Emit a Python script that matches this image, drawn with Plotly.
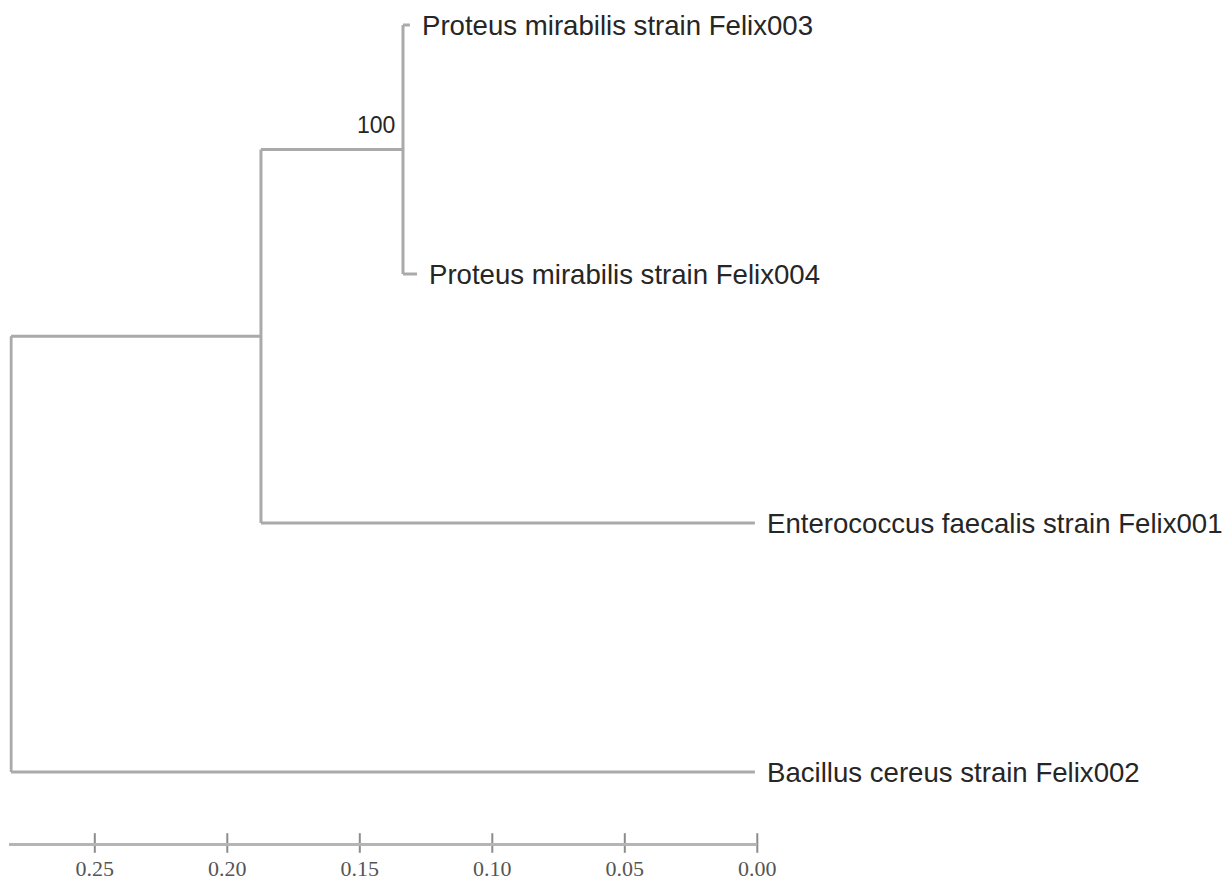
import plotly.graph_objects as go

# ---- data ----
leaf_names = [
    "Proteus mirabilis strain Felix003",
    "Proteus mirabilis strain Felix004",
    "Enterococcus faecalis strain Felix001",
    "Bacillus cereus strain Felix002",
]
leaf_depth = [0.1311, 0.1284, 0.0009, 0.0009]   # position on the reversed distance scale
leaf_row = [0, 1, 2, 3]

# internal nodes
node_names = ["proteus_clade", "ingroup", "root"]
node_depth = [0.1337, 0.1873, 0.2816]
node_children = [
    ["Proteus mirabilis strain Felix003", "Proteus mirabilis strain Felix004"],
    ["proteus_clade", "Enterococcus faecalis strain Felix001"],
    ["ingroup", "Bacillus cereus strain Felix002"],
]
bootstrap_node = "proteus_clade"
bootstrap_value = "100"

scale_ticks = [0.25, 0.20, 0.15, 0.10, 0.05, 0.00]
scale_labels = ["0.25", "0.20", "0.15", "0.10", "0.05", "0.00"]

# ---- build tree geometry ----
pos = {}
for n, d, r in zip(leaf_names, leaf_depth, leaf_row):
    pos[n] = (d, r)
for n, d, ch in zip(node_names, node_depth, node_children):
    ys = [pos[c][1] for c in ch]
    pos[n] = (d, (min(ys) + max(ys)) / 2)

xs, ys = [], []
for n, ch in zip(node_names, node_children):
    nx, ny = pos[n]
    cys = [pos[c][1] for c in ch]
    xs += [nx, nx, None]
    ys += [min(cys), max(cys), None]
    for c in ch:
        cx, cy = pos[c]
        xs += [nx, cx, None]
        ys += [cy, cy, None]

# page has an 8px body margin; figure is sized/placed to compensate
W, H = 1224, 873
px_per_unit = 2650.0
x0_pix = 749.3          # figure x-pixel of distance 0
row0_pix = 17.0         # figure y-pixel of first leaf row
row_step = 249.0        # pixels between leaf rows
scale_pix = 835.0       # figure y-pixel of scale bar (bottom of plot area)
root_depth = node_depth[node_names.index("root")]
x_left = root_depth + 0.0006
xl_pix = x0_pix - px_per_unit * x_left
y_bottom = (scale_pix - row0_pix) / row_step
y_top = -row0_pix / row_step

LINE = "#aaaaaa"
fig = go.Figure()
fig.add_trace(go.Scatter(x=xs, y=ys, mode="lines",
                         line=dict(color=LINE, width=3), hoverinfo="skip",
                         showlegend=False))

# tick marks crossing the scale bar
fig.add_trace(go.Scatter(x=scale_ticks, y=[y_bottom] * len(scale_ticks),
                         mode="markers", cliponaxis=False,
                         marker=dict(symbol="line-ns", size=14,
                                     line=dict(color="#8c8c8c", width=2)),
                         hoverinfo="skip", showlegend=False))

# leaf labels
for n in leaf_names:
    x, y = pos[n]
    fig.add_annotation(x=x, y=y, xref="x", yref="y", text=n, showarrow=False,
                       xanchor="left", yanchor="middle", xshift=10,
                       font=dict(family="Liberation Sans, Arial", size=27.6, color="#262626"))

# bootstrap label
bx, by = pos[bootstrap_node]
fig.add_annotation(x=bx, y=by, xref="x", yref="y", text=bootstrap_value, showarrow=False,
                   xanchor="right", yanchor="middle", xshift=-6, yshift=25,
                   font=dict(family="Liberation Sans, Arial", size=23, color="#262626"))

fig.update_layout(
    width=W, height=H,
    margin=dict(l=0, r=0, t=0, b=0),
    plot_bgcolor="white", paper_bgcolor="white",
    xaxis=dict(range=[x_left, 0], domain=[xl_pix / W, x0_pix / W],
               showline=True, linecolor="#b5b5b5", linewidth=3,
               showgrid=False, zeroline=False, automargin=False,
               ticks="", tickvals=scale_ticks, ticktext=scale_labels,
               ticklabelstandoff=4,
               tickfont=dict(family="Liberation Serif, Times New Roman", size=22, color="#555555")),
    yaxis=dict(range=[y_bottom, y_top], domain=[(H - scale_pix) / H, 1],
               visible=False, showgrid=False, zeroline=False, automargin=False),
)

fig.write_html("out.html")
